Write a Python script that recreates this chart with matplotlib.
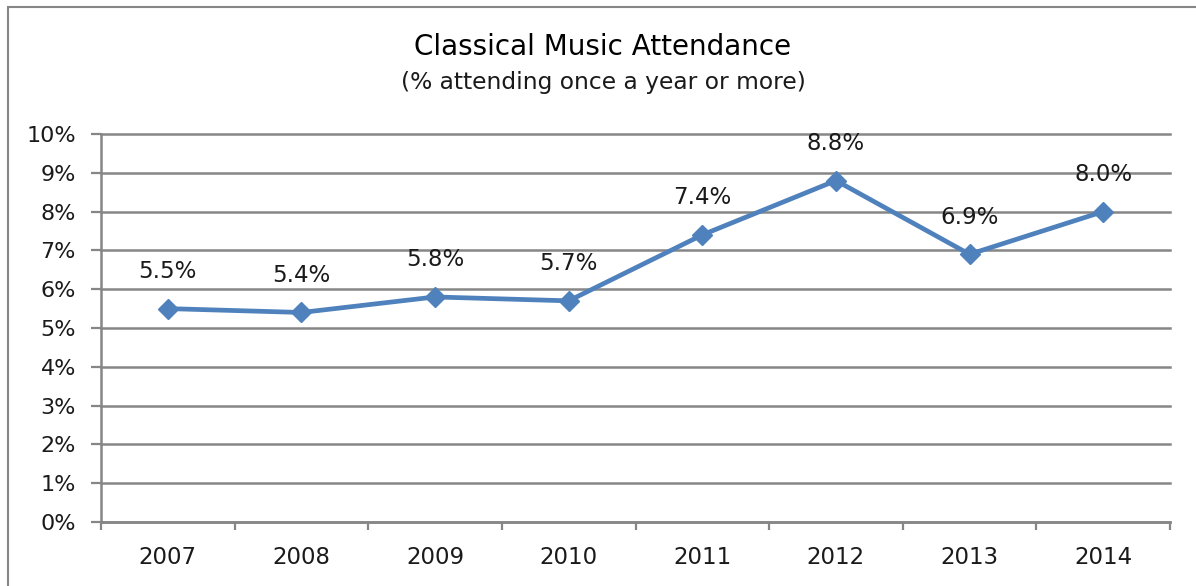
import matplotlib
matplotlib.use("Agg")
import matplotlib.pyplot as plt
from matplotlib.patches import Rectangle
from matplotlib.ticker import FuncFormatter, MultipleLocator

years = ["2007", "2008", "2009", "2010", "2011", "2012", "2013", "2014"]
attendance = [5.5, 5.4, 5.8, 5.7, 7.4, 8.8, 6.9, 8.0]
title = "Classical Music Attendance"
subtitle = "(% attending once a year or more)"

plt.rcParams['font.family'] = ['DejaVu Sans']
W, H = 1196, 586
fig = plt.figure(figsize=(W / 100, H / 100), dpi=100)
ax = fig.add_axes([101 / W, 1 - 522 / H, (1170 - 101) / W, (522 - 134) / H])

x = list(range(len(years)))
ax.plot(x, attendance, color="#4F81BD", lw=3.4, marker="D", ms=10.5,
        markeredgecolor="#4F81BD", markerfacecolor="#4F81BD", zorder=3)
for xi, v in zip(x, attendance):
    ax.annotate(f"{v:.1f}%", (xi, v), xytext=(0, 37), textcoords="offset pixels",
                ha="center", va="center", fontsize=16.5, color="#1a1a1a")

ax.set_xlim(-0.5, len(years) - 0.5)
ax.set_ylim(0, 10)
ax.yaxis.set_major_locator(MultipleLocator(1))
ax.yaxis.set_major_formatter(FuncFormatter(lambda v, p: f"{v:.0f}%"))
ax.set_xticks(x)
ax.set_xticklabels(years)
ax.set_xticks([i - 0.5 for i in range(len(years) + 1)], minor=True)
ax.tick_params(axis="x", which="major", length=0, pad=17, labelsize=16.5, colors="#1a1a1a")
ax.tick_params(axis="x", which="minor", length=6, width=1.6, color="#868686")
ax.tick_params(axis="y", which="major", length=7, width=1.6, color="#868686",
               labelsize=16, labelcolor="#1a1a1a", pad=11)
ax.grid(axis="y", color="#868686", lw=1.8)
for gl in ax.get_ygridlines():
    gl.set_clip_on(False)
ax.set_axisbelow(True)
for s in ["top", "right"]:
    ax.spines[s].set_visible(False)
for s in ["left", "bottom"]:
    ax.spines[s].set_color("#868686")
    ax.spines[s].set_linewidth(1.8)

fig.text(603 / W, 1 - 47 / H, title, ha="center", va="center", fontsize=20, color="black")
fig.text(603 / W, 1 - 83 / H, subtitle, ha="center", va="center", fontsize=16.8, color="#1a1a1a")

fig.patches.append(Rectangle((8 / W, -0.1), 1.2, 1 - 7 / H + 0.1, transform=fig.transFigure,
                             fill=False, edgecolor="#868686", lw=1.5))
fig.savefig("out.png", dpi=100)
